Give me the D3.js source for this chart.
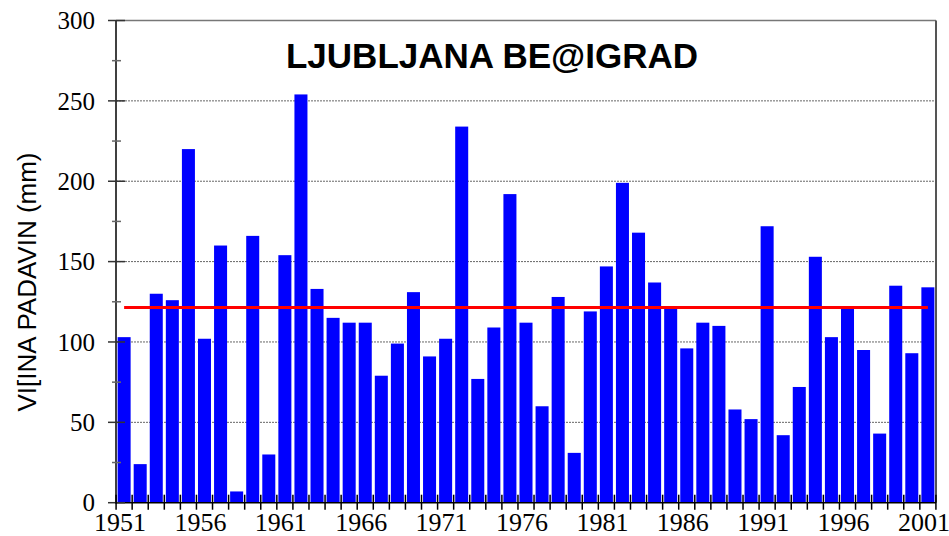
<html>
<head>
<meta charset="utf-8">
</head>
<body style="margin:0;background:#fff">
<script src="https://cdn.jsdelivr.net/npm/d3@7"></script>
<script>
// letna vrednost padavin, Ljubljana Bezigrad
var years = d3.range(1951, 2002);
var rain = [103, 24, 130, 126, 220, 102, 160, 7, 166, 30,
            154, 254, 133, 115, 112, 112, 79, 99, 131, 91,
            102, 234, 77, 109, 192, 112, 60, 128, 31, 119,
            147, 199, 168, 137, 121, 96, 112, 110, 58, 52,
            172, 42, 72, 153, 103, 121, 95, 43, 135, 93, 134];
var meanRain = 121.4;
var yTicks = [0, 50, 100, 150, 200, 250, 300];
var xLabels = [1951, 1956, 1961, 1966, 1971, 1976, 1981, 1986, 1991, 1996, 2001];
var title = "LJUBLJANA BE@IGRAD";
var yTitle = "VI[INA PADAVIN (mm)";

var width = 949, height = 536;
var pLeft = 116, pRight = 936, pTop = 20.5, pBottom = 502.7;

var svg = d3.select("body").append("svg")
            .attr("width", width)
            .attr("height", height);

var x = d3.scaleBand()
          .domain(years)
          .range([pLeft, pRight])
          .paddingInner(0.19)
          .paddingOuter(0.1);
var y = d3.scaleLinear().domain([0, 300]).range([pBottom, pTop]);

// mreza
svg.selectAll("line.grid")
   .data(yTicks.filter(d => d > 0 && d < 300))
   .join("line")
   .attr("class", "grid")
   .attr("x1", pLeft).attr("x2", pRight)
   .attr("y1", d => y(d)).attr("y2", d => y(d))
   .attr("stroke", "#666")
   .attr("stroke-width", 1)
   .attr("stroke-dasharray", "2,1");

// stolpci
svg.selectAll("rect")
   .data(rain)
   .join("rect")
   .attr("x", (d, i) => x(years[i]))
   .attr("y", d => y(d))
   .attr("width", x.bandwidth())
   .attr("height", d => pBottom - y(d))
   .attr("fill", "#0000ff");

// povprecje
svg.append("line")
   .attr("x1", x(years[0]) + x.bandwidth() / 2)
   .attr("x2", x(years[years.length - 1]) + x.bandwidth() / 2)
   .attr("y1", y(meanRain)).attr("y2", y(meanRain))
   .attr("stroke", "#ff0000")
   .attr("stroke-width", 3);

// okvir
svg.append("line").attr("x1", pLeft).attr("x2", pRight).attr("y1", pTop).attr("y2", pTop)
   .attr("stroke", "#777").attr("stroke-width", 1.5);
svg.append("line").attr("x1", pRight).attr("x2", pRight).attr("y1", pTop).attr("y2", pBottom)
   .attr("stroke", "#555").attr("stroke-width", 2);
svg.append("line").attr("x1", pLeft).attr("x2", pLeft).attr("y1", pTop).attr("y2", pBottom + 1)
   .attr("stroke", "#000").attr("stroke-width", 1.5);
svg.append("line").attr("x1", pLeft).attr("x2", pRight).attr("y1", pBottom).attr("y2", pBottom)
   .attr("stroke", "#000").attr("stroke-width", 1.5);

// y kljukice
svg.selectAll("line.ymaj")
   .data(yTicks)
   .join("line")
   .attr("class", "ymaj")
   .attr("x1", pLeft - 8).attr("x2", pLeft + 9)
   .attr("y1", d => y(d)).attr("y2", d => y(d))
   .attr("stroke", "#333").attr("stroke-width", 1.5);
svg.selectAll("line.ymin")
   .data(d3.range(25, 300, 50))
   .join("line")
   .attr("class", "ymin")
   .attr("x1", pLeft - 4).attr("x2", pLeft + 5)
   .attr("y1", d => y(d)).attr("y2", d => y(d))
   .attr("stroke", "#666").attr("stroke-width", 1.5);
svg.selectAll("text.ylab")
   .data(yTicks)
   .join("text")
   .attr("class", "ylab")
   .attr("x", 95)
   .attr("y", d => y(d))
   .attr("dy", "0.35em")
   .attr("text-anchor", "end")
   .attr("font-family", "'Liberation Serif', 'Times New Roman', serif")
   .attr("font-size", 25)
   .text(d => d);

// x kljukice na mejah stolpcev
var step = x.step();
svg.selectAll("line.xt")
   .data(d3.range(0, years.length + 1))
   .join("line")
   .attr("class", "xt")
   .attr("x1", i => x(years[0]) - x.paddingInner() * step / 2 + i * step)
   .attr("x2", i => x(years[0]) - x.paddingInner() * step / 2 + i * step)
   .attr("y1", pBottom - 8).attr("y2", pBottom + 7)
   .attr("stroke", "#000").attr("stroke-width", 1.5);
svg.selectAll("text.xlab")
   .data(xLabels)
   .join("text")
   .attr("class", "xlab")
   .attr("x", d => x(d) + x.bandwidth() / 2 - 4)
   .attr("y", 531)
   .attr("text-anchor", "middle")
   .attr("font-family", "'Liberation Serif', 'Times New Roman', serif")
   .attr("font-size", 26)
   .text(d => d);

// naslovi
svg.append("text")
   .attr("x", 492).attr("y", 68)
   .attr("text-anchor", "middle")
   .attr("font-family", "'Liberation Sans', Arial, sans-serif")
   .attr("font-weight", "bold")
   .attr("font-size", 35)
   .text(title);
svg.append("text")
   .attr("transform", "translate(36,282) rotate(-90)")
   .attr("text-anchor", "middle")
   .attr("font-family", "'Liberation Sans', Arial, sans-serif")
   .attr("font-size", 26)
   .text(yTitle);
</script>
</body>
</html>
